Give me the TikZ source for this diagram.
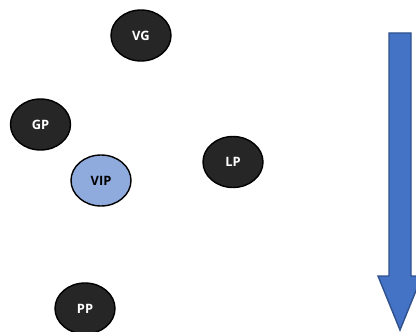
\documentclass[tikz,border=0pt]{standalone}
\usepackage{fontspec}
\setsansfont{Open Sans}
\usetikzlibrary{shapes.geometric}

\definecolor{darkfill}{HTML}{262626}
\definecolor{vipfill}{HTML}{8FAADC}
\definecolor{arrowfill}{HTML}{4472C4}
\definecolor{arrowline}{HTML}{2F528F}

\begin{document}
\begin{tikzpicture}[
    x=0.03cm, y=0.03cm,
    every node/.style={ellipse, draw=black, line width=1.2pt, fill=darkfill,
        text=white, font=\sffamily\bfseries\fontsize{11}{13}\selectfont,
        minimum width=1.8cm, minimum height=1.53cm, inner sep=0pt}
]
\clip (0,0) rectangle (416,331);
\useasboundingbox (0,0) rectangle (416,331);

\node (vg) at (141,295.5) {VG};
\node (gp) at (40.5,206.5) {GP};
\node[fill=vipfill, text=black] (vip) at (101,150.5) {VIP};
\node (lp) at (233,169) {LP};
\node (pp) at (85,22.5) {PP};

% big arrow on the right
\draw[fill=arrowfill, draw=arrowline, line width=1.2pt, line join=miter]
    (389,298) -- (411,298) -- (411,55) -- (422,55) -- (400,1)
    -- (378,55) -- (389,55) -- cycle;

\end{tikzpicture}
\end{document}
